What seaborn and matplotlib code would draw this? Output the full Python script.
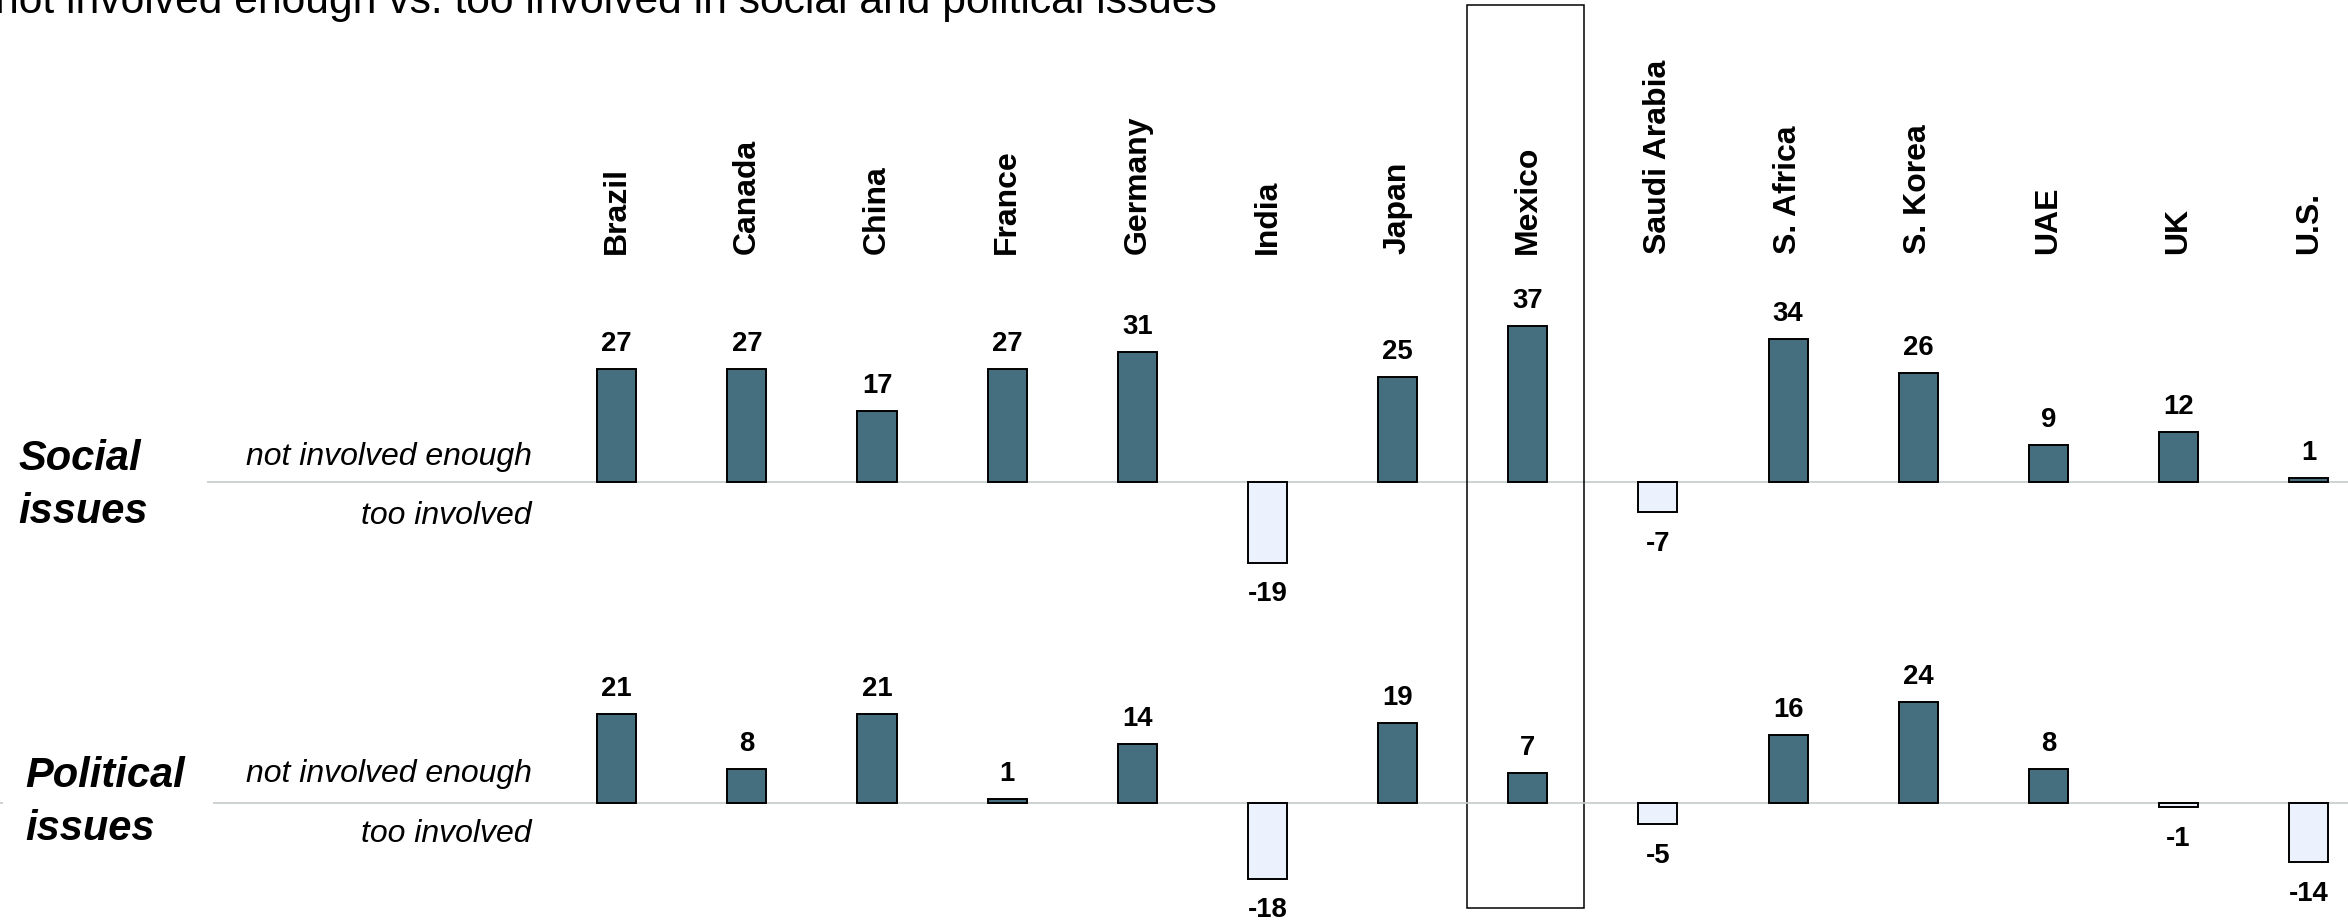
import matplotlib
matplotlib.use("Agg")
import matplotlib.pyplot as plt
import matplotlib.transforms as mtransforms
from matplotlib.patches import Rectangle
import numpy as np
import pandas as pd
import seaborn as sns

# ---- data -------------------------------------------------------------
countries = ["Brazil", "Canada", "China", "France", "Germany", "India", "Japan",
             "Mexico", "Saudi Arabia", "S. Africa", "S. Korea", "UAE", "UK", "U.S."]
social = [27, 27, 17, 27, 31, -19, 25, 37, -7, 34, 26, 9, 12, 1]
political = [21, 8, 21, 1, 14, -18, 19, 7, -5, 16, 24, 8, -1, -14]
highlight = "Mexico"

title = "not involved enough vs. too involved in social and political issues"
side_hi = "not involved enough"
side_lo = "too involved"
row_names = ["Social\nissues", "Political\nissues"]

# ---- style ------------------------------------------------------------
DARK = "#456f7e"
LIGHT = "#ebf2fd"
ZERO = "#c5cccc"

sns.set_theme(style="white")
plt.rcParams["font.family"] = ["Liberation Sans", "DejaVu Sans"]

W, H, DPI = 2348, 922, 100
X0, DX = 616.7, 130.15     # pixel centre of first country, spacing between countries
PPU = 4.22                 # pixels per percentage point

fig = plt.figure(figsize=(W / DPI, H / DPI), dpi=DPI)
fig.patch.set_facecolor("white")

# name_base is the baseline of the second line of the row name
rows = [
    dict(values=social, zero=482.5, line_from=207, name=row_names[0], name_x=18,
         name_base=523, hi_base=465, lo_base=524),
    dict(values=political, zero=803, line_from=213, name=row_names[1], name_x=25,
         name_base=840, hi_base=782, lo_base=842),
]

axes = []
for r in rows:
    ax = fig.add_axes([0, 0, 1, 1], facecolor="none")
    df = pd.DataFrame({"country": countries, "value": r["values"]})
    df["side"] = np.where(df["value"] > 0, side_hi, side_lo)
    sns.barplot(data=df, x="country", y="value", hue="side", order=countries,
                hue_order=[side_hi, side_lo],
                palette={side_hi: DARK, side_lo: LIGHT}, saturation=1,
                dodge=False, width=0.3, edgecolor="black", linewidth=1.4,
                errorbar=None, legend=False, ax=ax, zorder=3)
    xlo, xhi = -X0 / DX, (W - X0) / DX
    ax.set_xlim(xlo, xhi)
    ax.set_ylim(-(H - r["zero"]) / PPU, r["zero"] / PPU)
    ax.set_axis_off()

    # zero line
    ax.plot([(r["line_from"] - X0) / DX, xhi], [0, 0], color=ZERO, lw=1.2,
            zorder=1, solid_capstyle="butt")

    # value labels
    for i, v in enumerate(r["values"]):
        off = 18 if v > 0 else -38.5
        ax.annotate(f"{v}", (i, v), xytext=(0, off), textcoords="offset pixels",
                    ha="center", va="baseline", fontsize=19.8, fontweight="bold",
                    color="black", zorder=4)

    # row and direction labels
    fig.text(r["name_x"] / W, 1 - r["name_base"] / H, r["name"], ha="left",
             va="baseline", fontsize=30, fontweight="bold", style="italic",
             linespacing=1.43, color="black")
    fig.text(531.5 / W, 1 - r["hi_base"] / H, side_hi, ha="right", va="baseline",
             fontsize=23, style="italic", color="black")
    fig.text(531.5 / W, 1 - r["lo_base"] / H, side_lo, ha="right", va="baseline",
             fontsize=23, style="italic", color="black")
    axes.append(ax)

# political row: short stub of the zero line at the far left edge
axes[1].plot([-X0 / DX, (3 - X0) / DX], [0, 0], color=ZERO, lw=1.2, zorder=1,
             solid_capstyle="butt")

# country names along the top
top_ax = axes[0]
blend = mtransforms.blended_transform_factory(top_ax.transData, top_ax.transAxes)
for i, c in enumerate(countries):
    top_ax.text(i, 1 - 254 / H, c, transform=blend, rotation=90, ha="center",
                va="bottom", fontsize=23, fontweight="bold", color="black")

# highlight frame around one country
hi_idx = countries.index(highlight)
top_ax.add_patch(Rectangle((hi_idx - 0.465, 1 - 908 / H), 0.9, (908 - 5) / H,
                           transform=blend, fill=False, edgecolor="black",
                           linewidth=1.1, clip_on=False, zorder=5))

# title (runs off the top-left corner)
fig.text(-5 / W, 1 - 13.3 / H, title, ha="left", va="baseline", fontsize=30.7,
         color="black")

fig.savefig("out.png", dpi=DPI, facecolor="white")
